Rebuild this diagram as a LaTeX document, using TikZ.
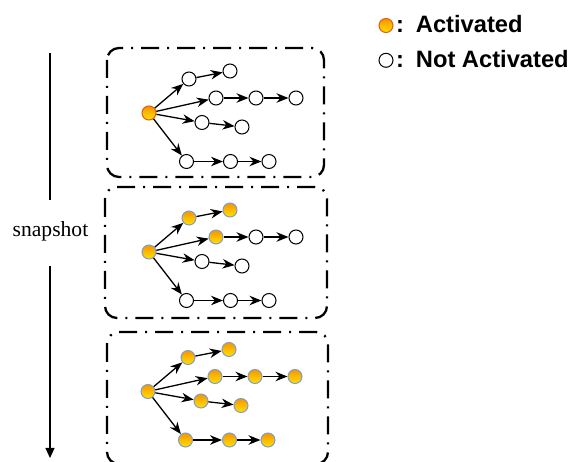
\documentclass[tikz,border=0pt]{standalone}
\usepackage{fontspec}
\setmainfont{Liberation Serif}
\newfontfamily\legfont{Liberation Sans}
\usetikzlibrary{arrows.meta}

\definecolor{actorange}{RGB}{247,148,0}
\definecolor{actyellow}{RGB}{255,226,0}
\definecolor{actrim}{RGB}{222,92,20}
\definecolor{actblue}{RGB}{128,158,200}

\tikzset{
  nd/.style={circle, minimum size=14pt, inner sep=0pt, line width=1pt},
  inact/.style={nd, draw=black, fill=white},
  actA/.style={nd, draw=actrim, top color=actorange, bottom color=actyellow},
  actB/.style={nd, draw=actblue, top color=actorange, bottom color=actyellow},
  arr/.style={-{Stealth[length=12pt,width=9.5pt]}, line width=1.3pt},
  snapbox/.style={line width=2.3pt, rounded corners=12pt,
    dash pattern=on 18pt off 8pt on 2pt off 8pt},
  legtext/.style={font=\legfont\bfseries\fontsize{23.7}{26}\selectfont,
    anchor=base west, inner sep=0pt},
}

\begin{document}
\begin{tikzpicture}[x=1pt, y=-1pt]
  \useasboundingbox (0,0) rectangle (571,462);
  % snapshot arrow
  \coordinate (top) at (50,53);
  \coordinate (upend) at (50,200);
  \coordinate (lowstart) at (50,266);
  \coordinate (bottom) at (50,458);
  \node[font=\fontsize{21.6}{24}\selectfont] (snap) at (50.5,231) {snapshot};
  \draw[line width=1.1pt] (top) -- (upend);
  \draw[line width=1.1pt, -{Triangle[length=10pt,width=9pt]}] (lowstart) -- (bottom);

  % boxes
  \draw[snapbox] (107,48) rectangle (324,177);
  \draw[snapbox] (105,187) rectangle (327,318);
  \draw[snapbox] (107,332) rectangle (328,464);

  % trees, one per snapshot
  \foreach \s/\rx/\ry/\rst/\ast/\rest in {1/149/113/actA/inact/inact,
      2/149/252/actB/actB/inact, 3/148/391.5/actB/actB/actB}{
    \begin{scope}[shift={(\rx,\ry)}]
      \node[\rst] (r-\s) at (0,0) {};
      \node[\ast] (a1-\s) at (40,-34) {};
      \node[\ast] (a2-\s) at (81,-42) {};
      \node[\ast] (b1-\s) at (67,-15) {};
      \node[\rest] (b2-\s) at (107,-15) {};
      \node[\rest] (b3-\s) at (147,-15) {};
      \node[\rest] (c1-\s) at (53,9.5) {};
      \node[\rest] (c2-\s) at (93,14) {};
      \node[\rest] (d1-\s) at (37.5,48.5) {};
      \node[\rest] (d2-\s) at (81.5,48.5) {};
      \node[\rest] (d3-\s) at (120,48.5) {};
    \end{scope}
    \draw[arr] (r-\s) -- (a1-\s);
    \draw[arr] (r-\s) -- (b1-\s);
    \draw[arr] (r-\s) -- (c1-\s);
    \draw[arr] (r-\s) -- (d1-\s);
    \draw[arr] (a1-\s) -- (a2-\s);
    \draw[arr] (b1-\s) -- (b2-\s);
    \draw[arr] (b2-\s) -- (b3-\s);
    \draw[arr] (c1-\s) -- (c2-\s);
    \draw[arr] (d1-\s) -- (d2-\s);
    \draw[arr] (d2-\s) -- (d3-\s);
  }

  % legend
  \node[actA] (key-act) at (386,25.5) {};
  \node[inact] (key-not) at (386,60.3) {};
  \node[legtext] (lab-act) at (396,32.7) {:\hspace{0.5em}Activated};
  \node[legtext] (lab-not) at (396,67.3) {:\hspace{0.5em}Not Activated};
\end{tikzpicture}
\end{document}
